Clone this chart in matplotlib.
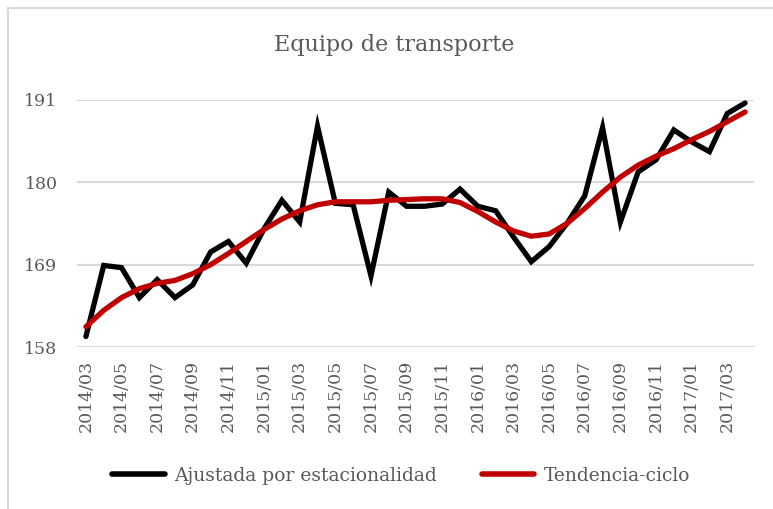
import matplotlib

matplotlib.use("Agg")

import matplotlib.pyplot as plt
from matplotlib.lines import Line2D

# monthly series, 2014/03 .. 2017/04
months = [
    "2014/03", "2014/04", "2014/05", "2014/06", "2014/07", "2014/08", "2014/09",
    "2014/10", "2014/11", "2014/12", "2015/01", "2015/02", "2015/03", "2015/04",
    "2015/05", "2015/06", "2015/07", "2015/08", "2015/09", "2015/10", "2015/11",
    "2015/12", "2016/01", "2016/02", "2016/03", "2016/04", "2016/05", "2016/06",
    "2016/07", "2016/08", "2016/09", "2016/10", "2016/11", "2016/12", "2017/01",
    "2017/02", "2017/03", "2017/04",
]
ajustada = [
    159.4, 168.9, 168.6, 164.6, 167.0, 164.6, 166.3, 170.7, 172.1, 169.2,
    173.8, 177.6, 174.7, 187.5, 177.2, 177.0, 167.5, 178.7, 176.8, 176.8,
    177.1, 179.1, 176.8, 176.2, 172.7, 169.4, 171.4, 174.5, 178.2, 187.3,
    174.7, 181.4, 183.0, 187.0, 185.4, 184.1, 189.2, 190.6,
]
tendencia = [
    160.7, 162.9, 164.6, 165.8, 166.5, 166.9, 167.8, 169.0, 170.5, 172.1,
    173.7, 175.1, 176.2, 177.0, 177.4, 177.4, 177.4, 177.6, 177.7, 177.8,
    177.8, 177.3, 176.1, 174.7, 173.5, 172.8, 173.1, 174.5, 176.5, 178.7,
    180.7, 182.3, 183.5, 184.5, 185.7, 186.8, 188.1, 189.4,
]
yticks = [158, 169, 180, 191]

text_color = "#595959"
grid_color = "#d9d9d9"
plt.rcParams["font.family"] = ["DejaVu Serif"]

fig = plt.figure(figsize=(7.73, 5.09), dpi=100)
ax = fig.add_axes([77 / 773, 1 - 347 / 509, (754 - 77) / 773, (347 - 100) / 509])

x = list(range(len(months)))
ax.plot(x, ajustada, color="black", linewidth=3.8, solid_joinstyle="miter",
        solid_capstyle="round", label="Ajustada por estacionalidad", zorder=3)
ax.plot(x, tendencia, color="#c00000", linewidth=3.8, solid_joinstyle="round",
        solid_capstyle="round", label="Tendencia-ciclo", zorder=4)

ax.set_xlim(-0.5, len(months) - 0.5)
ax.set_ylim(yticks[0], yticks[-1])
ax.set_yticks(yticks)
ax.set_xticks(x[::2])
ax.set_xticklabels(months[::2], rotation=90)
ax.tick_params(axis="both", length=0, labelsize=12.5, colors=text_color)
ax.tick_params(axis="y", pad=14)
ax.tick_params(axis="x", pad=9)
ax.grid(axis="y", color=grid_color, linewidth=1.5)
ax.set_axisbelow(True)
for s in ax.spines.values():
    s.set_visible(False)

fig.text(0.510, 1 - 45 / 509, "Equipo de transporte", ha="center", va="center",
         fontsize=16, color=text_color)

leg = fig.legend(loc="center", bbox_to_anchor=(0.519, 1 - 476 / 509), ncol=2,
                 frameon=False, fontsize=13.5, handlelength=2.8, handletextpad=0.5,
                 columnspacing=2.4)
for t in leg.get_texts():
    t.set_color(text_color)
for h in leg.legend_handles:
    h.set_linewidth(4)

# chart border (left and top edges visible)
fig.add_artist(Line2D([8 / 773, 8 / 773], [0, 1 - 8 / 509], color=grid_color,
                      linewidth=1.5, transform=fig.transFigure))
fig.add_artist(Line2D([8 / 773, 1], [1 - 8 / 509, 1 - 8 / 509], color=grid_color,
                      linewidth=1.5, transform=fig.transFigure))

fig.savefig("out.png", dpi=100)
plt.close(fig)
